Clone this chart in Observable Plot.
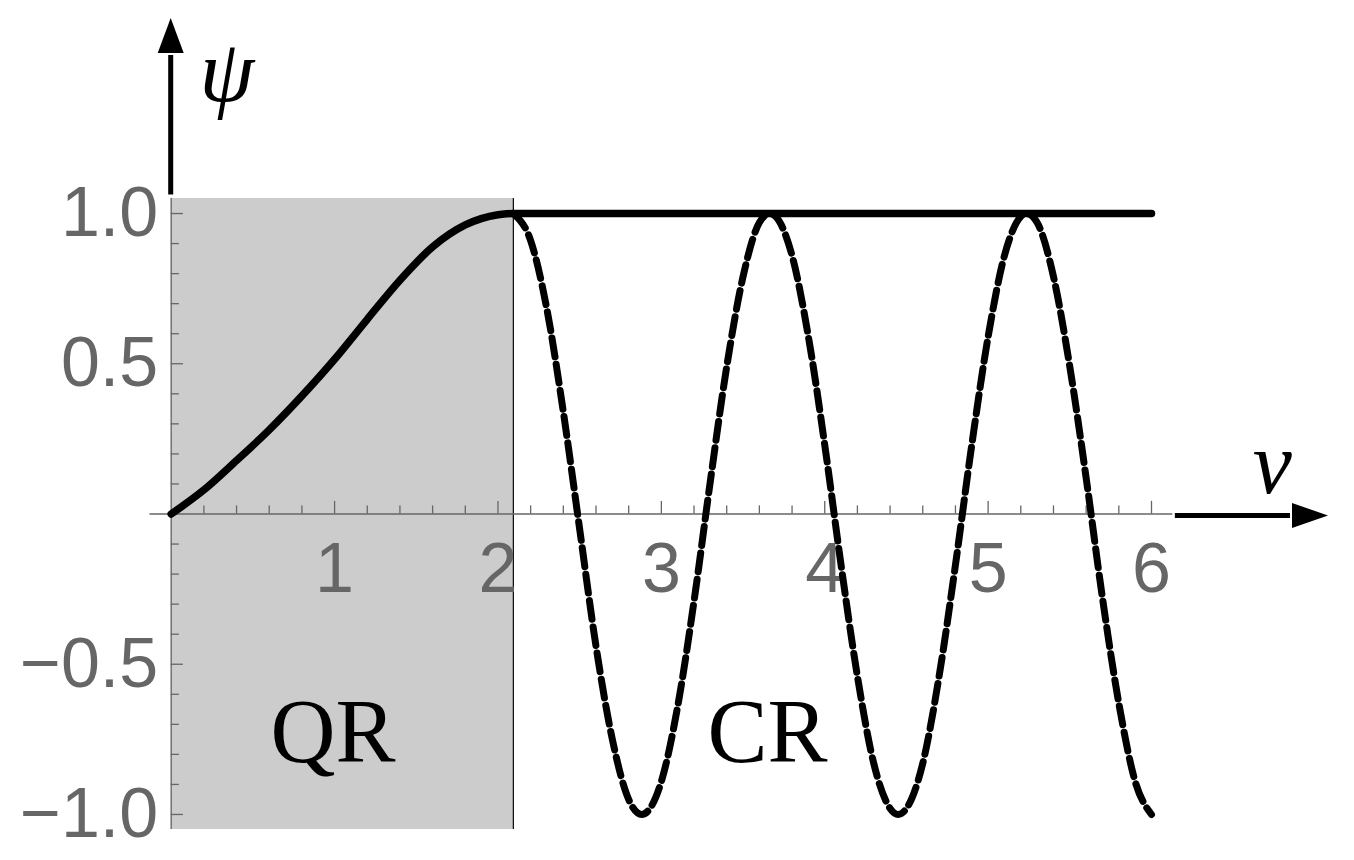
<!DOCTYPE html>
<html>
<head>
<meta charset="utf-8">
<script src="https://cdn.jsdelivr.net/npm/d3@7"></script>
<script src="https://cdn.jsdelivr.net/npm/@observablehq/plot@0.6"></script>
<style>
  html, body { margin: 0; padding: 0; background: #fff; }
  #chart svg { display: block; }
</style>
</head>
<body>
<div id="chart"></div>
<script>
// ---- data ----
// solid curve: quantum regime rise, then plateau at psi = 1
const vSolid   = [0, 0.2, 0.4, 0.6, 0.8, 1.0, 1.2, 1.4, 1.6, 1.8, 2.0, 2.094, 6.0];
const psiSolid = [0, 0.08, 0.178, 0.28, 0.393, 0.515, 0.648, 0.778, 0.889, 0.962, 0.996, 1.0, 1.0];

// dashed curve: classical regime oscillation
const vDashed = [2.094, 2.2, 2.3, 2.4, 2.5, 2.6, 2.7, 2.8, 2.88, 3.0, 3.1, 3.2, 3.3, 3.4, 3.5, 3.6, 3.665, 3.7,
                 3.8, 3.9, 4.0, 4.1, 4.2, 4.3, 4.4, 4.45, 4.5, 4.6, 4.7, 4.8, 4.9, 5.0, 5.1, 5.2, 5.236, 5.3,
                 5.4, 5.5, 5.6, 5.7, 5.8, 5.9, 6.0];
const psiDashed = [1.00, 0.91, 0.68, 0.34, -0.05, -0.44, -0.75, -0.95, -1.00, -0.89, -0.64, -0.29, 0.11, 0.49, 0.79, 0.97, 1.00, 0.99,
                   0.86, 0.59, 0.23, -0.17, -0.54, -0.83, -0.98, -1.00, -0.98, -0.83, -0.54, -0.17, 0.23, 0.59, 0.86, 0.99, 1.00, 0.97,
                   0.79, 0.49, 0.12, -0.28, -0.63, -0.89, -1.00];

const regionBoundary = 2.094;          // end of the shaded QR region
const regionNames = ["QR", "CR"];
const regionCenters = [0.99, 3.65];

const xTickLabels = [1, 2, 3, 4, 5, 6];
const yTickLabels = [-1.0, -0.5, 0.5, 1.0];
const xMinorTicks = d3.range(1, 31).map(i => i / 5);      // every 0.2
const yMinorTicks = d3.range(-10, 11).filter(i => i !== 0).map(i => i / 10); // every 0.1

const xLabel = "v";
const yLabel = "ψ";

// ---- build tables ----
const solid = vSolid.map((v, i) => ({v, psi: psiSolid[i]}));
const dashed = vDashed.map((v, i) => ({v, psi: psiDashed[i]}));
const regions = regionNames.map((name, i) => ({name, v: regionCenters[i]}));

const Y0 = -1.05, Y1 = 1.05;
const fmtY = d3.format(".1f");

// axis arrows drawn through the scales
function arrows(index, {x, y}) {
  const g = d3.create("svg:g");
  // vertical arrow (psi)
  const ax = x(0);
  const yBase = y(1.062), yTip = 18, yHead = 53;
  g.append("line").attr("x1", ax).attr("x2", ax).attr("y1", yBase).attr("y2", yHead + 2)
    .attr("stroke", "black").attr("stroke-width", 5);
  g.append("path").attr("d", `M${ax},${yTip}L${ax - 13},${yHead}L${ax + 13},${yHead}Z`).attr("fill", "black");
  // horizontal arrow (v)
  const ay = y(0) + 2;
  const xStart = x(6.146), xTip = 1328, xHead = 1292;
  g.append("line").attr("x1", xStart).attr("x2", xHead - 2).attr("y1", ay).attr("y2", ay)
    .attr("stroke", "black").attr("stroke-width", 5);
  g.append("path").attr("d", `M${xTip},${ay}L${xHead},${ay - 12.5}L${xHead},${ay + 12.5}Z`).attr("fill", "black");
  return g.node();
}

const chart = Plot.plot({
  width: 1354,
  height: 860,
  marginLeft: 170.7,
  marginRight: 203,
  marginTop: 198,
  marginBottom: 31,
  x: {domain: [0, 6], axis: null},
  y: {domain: [Y0, Y1], axis: null},
  style: {background: "#fff", overflow: "visible"},
  marks: [
    // shaded quantum region
    Plot.rect([0], {x1: 0, x2: regionBoundary, y1: Y0, y2: Y1, fill: "#cccccc"}),
    Plot.ruleX([regionBoundary], {y1: Y0, y2: Y1, stroke: "black", strokeWidth: 1.2}),
    // axes lines
    Plot.ruleY([0], {x1: -0.13, x2: 6.13, stroke: "#666", strokeWidth: 1.3}),
    Plot.ruleX([0], {y1: Y0, y2: Y1, stroke: "#666", strokeWidth: 1.3}),
    // x ticks (upward)
    Plot.ruleX(xMinorTicks, {x: d => d, y1: 0, y2: d => Number.isInteger(d) ? 0.042 : 0.027, stroke: "#666", strokeWidth: 1.3}),
    // y ticks (to the right)
    Plot.ruleY(yMinorTicks, {y: d => d, x1: 0, x2: d => (Math.abs(d * 2 - Math.round(d * 2)) < 1e-9) ? 0.075 : 0.05, stroke: "#666", strokeWidth: 1.3}),
    // tick labels
    Plot.text(xTickLabels, {x: d => d, y: 0, dy: 56, text: d => String(d), fontSize: 70, fill: "#666",
      fontFamily: "Liberation Sans, Arial, sans-serif"}),
    Plot.text(yTickLabels, {x: 0, y: d => d, dx: -13, dy: 0, textAnchor: "end", text: d => fmtY(d), fontSize: 70, fill: "#666",
      fontFamily: "Liberation Sans, Arial, sans-serif"}),
    // curves
    Plot.line(dashed, {x: "v", y: "psi", curve: "monotone-x", stroke: "black", strokeWidth: 7, strokeDasharray: "19,7.5"}),
    Plot.line(solid, {x: "v", y: "psi", curve: "monotone-x", stroke: "black", strokeWidth: 7.5}),
    // region labels
    Plot.text(regions, {x: "v", y: -0.827, text: "name", lineAnchor: "bottom", fontSize: 90, fill: "black",
      fontFamily: "Liberation Serif, Times New Roman, serif"}),
    // axis labels
    Plot.text([yLabel], {x: 0.34, y: 1.376, text: d => d, lineAnchor: "bottom", fontSize: 88, fontStyle: "italic", fill: "black",
      fontFamily: "Liberation Serif, Times New Roman, serif"}),
    Plot.text([xLabel], {x: 6.74, y: 0.0715, text: d => d, lineAnchor: "bottom", fontSize: 88, fontStyle: "italic", fill: "black",
      fontFamily: "Liberation Serif, Times New Roman, serif"}),
    arrows
  ]
});
document.getElementById("chart").appendChild(chart);
</script>
</body>
</html>
